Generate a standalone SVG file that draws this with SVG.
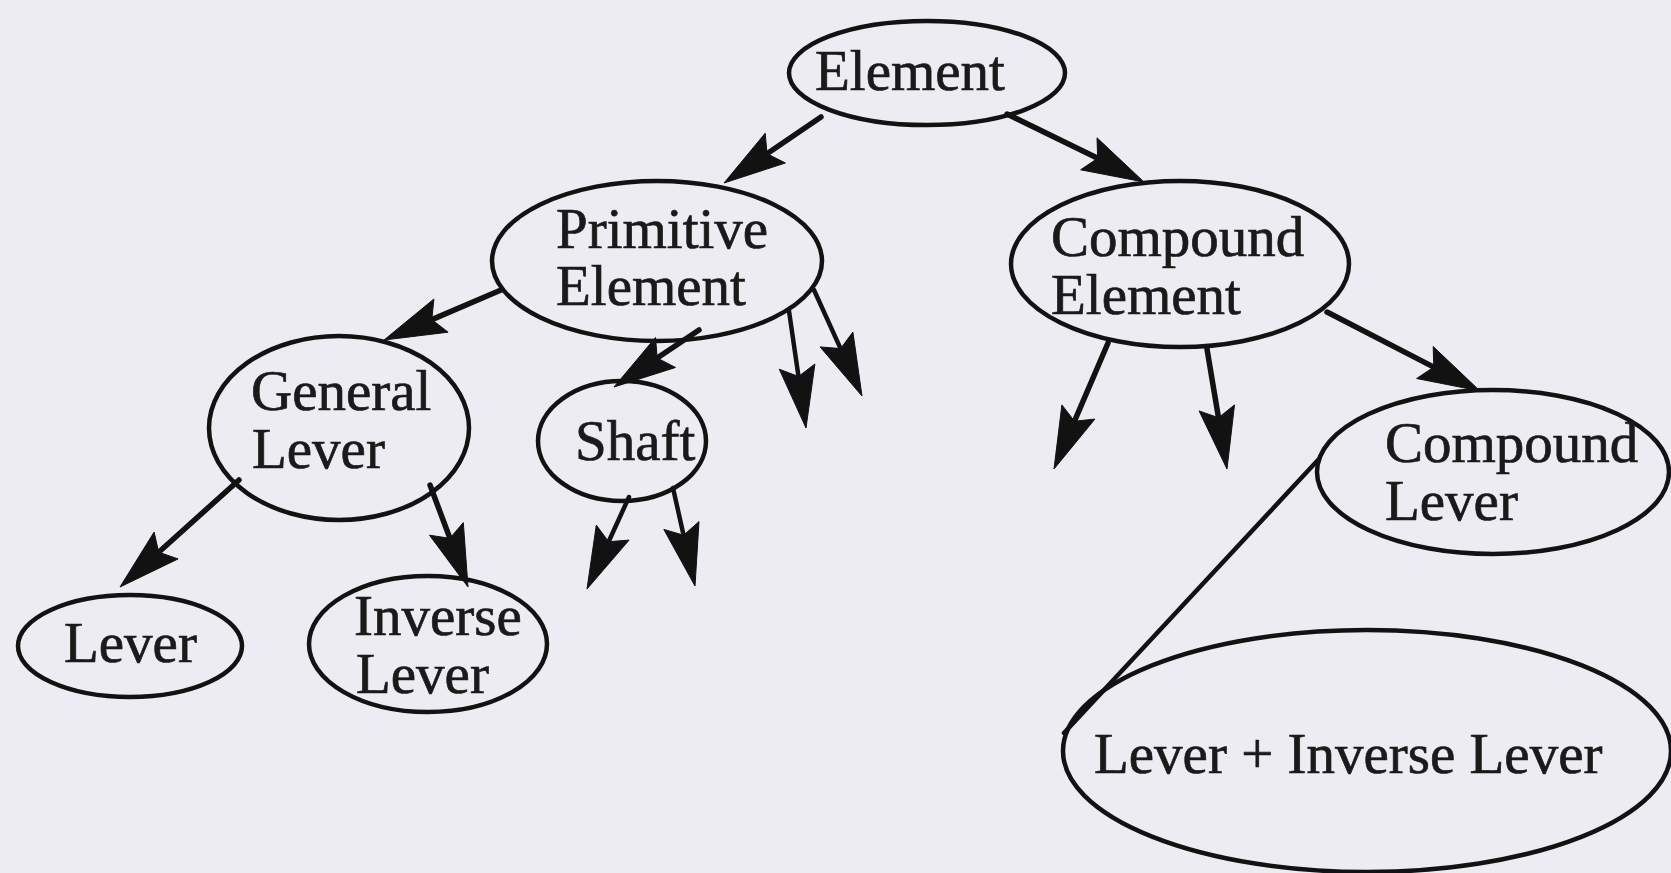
<svg xmlns="http://www.w3.org/2000/svg" width="1671" height="873" viewBox="0 0 1671 873">
<style>
.bg{fill:#edecf3}
.node ellipse{fill:none;stroke:#121212;stroke-width:4.5}
.node text{font-family:"Liberation Serif","Times New Roman",serif;font-size:57px;fill:#1a1a1a;stroke:#1a1a1a;stroke-width:0.7}
.edges line{stroke:#121212;stroke-width:5.5;stroke-linecap:round}
.edges polygon{fill:#121212;stroke:#121212;stroke-width:1;stroke-linejoin:round}
.edges line.thin{stroke-width:4.5}
</style>
<rect class="bg" x="0" y="0" width="1671" height="873"/>
<g id="connectors" class="edges">
<line x1="821" y1="117" x2="767" y2="153.7"/>
<polygon points="724,183 765.2,133.2 767,153.7 785.4,163"/>
<line x1="1007" y1="114" x2="1097.7" y2="158.3"/>
<polygon points="1144,182 1097,137.8 1097.7,158.3 1080.6,169.8"/>
<line x1="501" y1="290" x2="431.8" y2="319.6"/>
<polygon points="384,340 433.9,299 431.8,319.6 448.1,332.2"/>
<line x1="699" y1="330" x2="657.2" y2="358"/>
<polygon points="614,387 655.5,337.5 657.2,358 675.5,367.5"/>
<line class="thin" x1="789" y1="311" x2="798.5" y2="376.5"/>
<polygon points="806,428 779.3,369.2 798.5,376.5 814.9,364"/>
<line class="thin" x1="814" y1="290" x2="840.6" y2="348.6"/>
<polygon points="862,396 820.1,346.9 840.6,348.6 852.9,332.1"/>
<line x1="239" y1="480" x2="158.7" y2="552.2"/>
<polygon points="120,587 154.1,532.1 158.7,552.2 178.1,558.9"/>
<line x1="430" y1="485" x2="449.9" y2="538.3"/>
<polygon points="468,587 429.5,535.2 449.9,538.3 463.3,522.6"/>
<line class="thin" x1="629" y1="497" x2="608.6" y2="541.7"/>
<polygon points="587,589 596.3,525.1 608.6,541.7 629.1,540.1"/>
<line class="thin" x1="673" y1="488" x2="683.6" y2="535.2"/>
<polygon points="695,586 663.8,529.4 683.6,535.2 699,521.6"/>
<line x1="1108" y1="343" x2="1074.5" y2="421.2"/>
<polygon points="1054,469 1061.9,404.9 1074.5,421.2 1094.9,419.1"/>
<line x1="1207" y1="349" x2="1218.5" y2="417.7"/>
<polygon points="1227,469 1199.1,410.9 1218.5,417.7 1234.5,404.9"/>
<line x1="1327" y1="312" x2="1433.8" y2="367.1"/>
<polygon points="1480,391 1433.2,346.5 1433.8,367.1 1416.6,378.5"/>
<line class="thin" x1="1318" y1="460" x2="1064" y2="733"/>
</g>
<g id="node-element" class="node">
<ellipse cx="927" cy="73" rx="138" ry="52"/>
<text x="910" y="90" text-anchor="middle">Element</text>
</g>
<g id="node-primitive-element" class="node">
<ellipse cx="657" cy="261" rx="165" ry="80"/>
<text x="556" y="248">Primitive</text>
<text x="556" y="305">Element</text>
</g>
<g id="node-compound-element" class="node">
<ellipse cx="1180" cy="264" rx="169" ry="83"/>
<text x="1051" y="256">Compound</text>
<text x="1051" y="314">Element</text>
</g>
<g id="node-general-lever" class="node">
<ellipse cx="339" cy="428" rx="130" ry="92"/>
<text x="251" y="410">General</text>
<text x="252" y="468">Lever</text>
</g>
<g id="node-shaft" class="node">
<ellipse cx="622" cy="441" rx="84" ry="60"/>
<text x="575" y="460">Shaft</text>
</g>
<g id="node-lever" class="node">
<ellipse cx="130" cy="646" rx="112" ry="51"/>
<text x="64" y="662">Lever</text>
</g>
<g id="node-inverse-lever" class="node">
<ellipse cx="428" cy="644" rx="119" ry="68"/>
<text x="354" y="635">Inverse</text>
<text x="356" y="693">Lever</text>
</g>
<g id="node-compound-lever" class="node">
<ellipse cx="1493" cy="472" rx="176" ry="82"/>
<text x="1385" y="462">Compound</text>
<text x="1385" y="520">Lever</text>
</g>
<g id="node-lever-inverse-lever" class="node">
<ellipse cx="1367" cy="751" rx="304" ry="121"/>
<text x="1094" y="773">Lever + Inverse Lever</text>
</g>
</svg>
